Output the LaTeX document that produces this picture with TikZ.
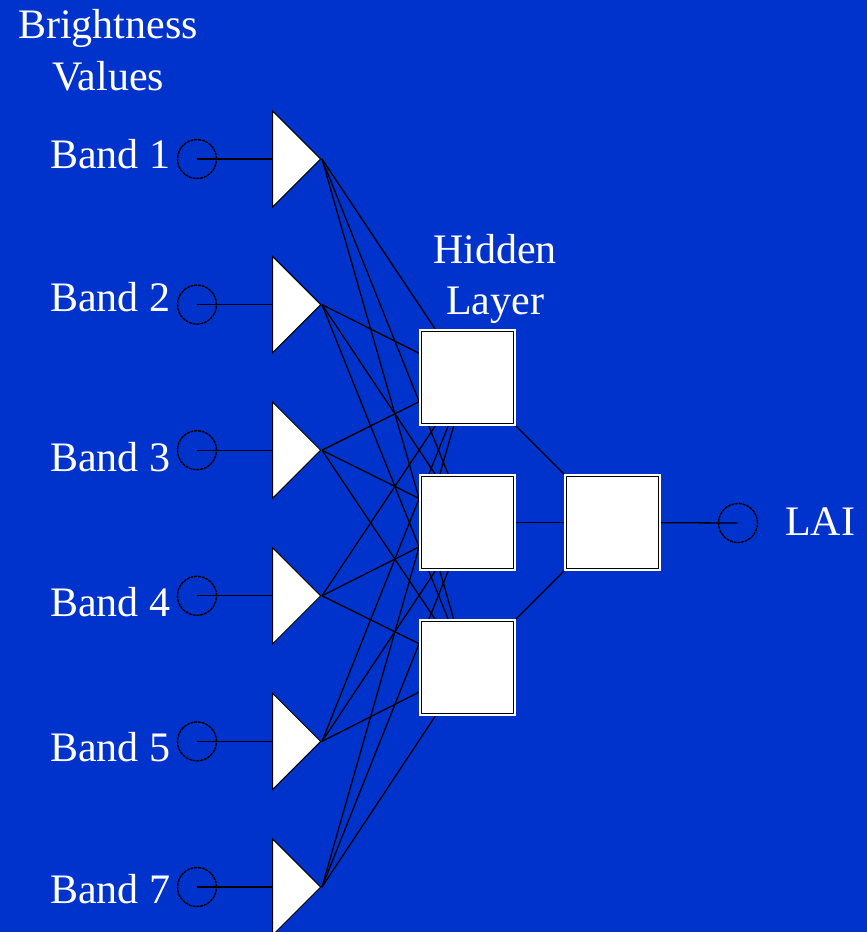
\documentclass[tikz,border=0pt]{standalone}
\usepackage{fontspec}
\setmainfont{Liberation Serif}
\usetikzlibrary{shapes.geometric}
\pgfdeclarelayer{bg}
\pgfdeclarelayer{edges}
\pgfsetlayers{bg,edges,main}
\definecolor{bgblue}{RGB}{0,51,204}
\tikzset{
  lbl/.style={text=white, font=\fontsize{42}{52}\selectfont, inner sep=0pt},
  tri/.style={isosceles triangle, isosceles triangle stretches, shape border rotate=0,
    minimum width=96, minimum height=48, inner sep=0pt, fill=white, draw=black, line width=1pt},
  inp/.style={circle, minimum size=39, inner sep=0pt, draw=black, line width=1.4pt, dash pattern=on 3pt off 0.8pt},
  sq/.style={rectangle, minimum size=92, inner sep=0pt, fill=white, draw=black, line width=1.2pt,
    preaction={draw=white, line width=5pt}},
  wire/.style={draw=black, line width=1.3pt},
}
\begin{document}
\begin{tikzpicture}[x=1pt,y=-1pt]
\begin{pgfonlayer}{bg}
\fill[bgblue] (0,0) rectangle (867,932);
\end{pgfonlayer}
\useasboundingbox (0,0) rectangle (867,932);

% labels
\node[lbl, anchor=base] (bv1) at (108,38) {Brightness};
\node[lbl, anchor=base] (bv2) at (108,90) {Values};
\node[lbl, anchor=base] (hl1) at (495,263) {Hidden};
\node[lbl, anchor=base] (hl2) at (495,314) {Layer};
\node[lbl, anchor=base west] (lai) at (785,535) {LAI};

\foreach \i/\b/\y/\t in {1/1/159/168, 2/2/304.6/311, 3/3/450.2/471, 4/4/595.8/616, 5/5/741.4/761, 6/7/887/903} {
  \node[lbl, anchor=base west] (b\i) at (50,\t) {Band \b};
  \node[inp] (c\i) at (197,\y) {};
  \node[tri, anchor=apex] (t\i) at (322,\y) {};
}

\node[sq] (h1) at (467.5,377.5) {};
\node[sq] (h2) at (467.5,522.5) {};
\node[sq] (h3) at (467.5,667.5) {};
\node[sq] (o) at (612.5,522.5) {};
\node[inp] (out) at (738,523) {};

\begin{pgfonlayer}{edges}
\foreach \i in {1,...,6} {
  \draw[wire] (c\i.center) -- (t\i.west |- t\i.apex);
  \foreach \h in {1,2,3} {
    \draw[wire] (t\i.apex) -- (h\h.center);
  }
}
\foreach \h in {1,2,3} {
  \draw[wire] (h\h.center) -- (o.center);
}
\draw[wire] (o.center) -- (out.center);
\end{pgfonlayer}
\end{tikzpicture}
\end{document}
